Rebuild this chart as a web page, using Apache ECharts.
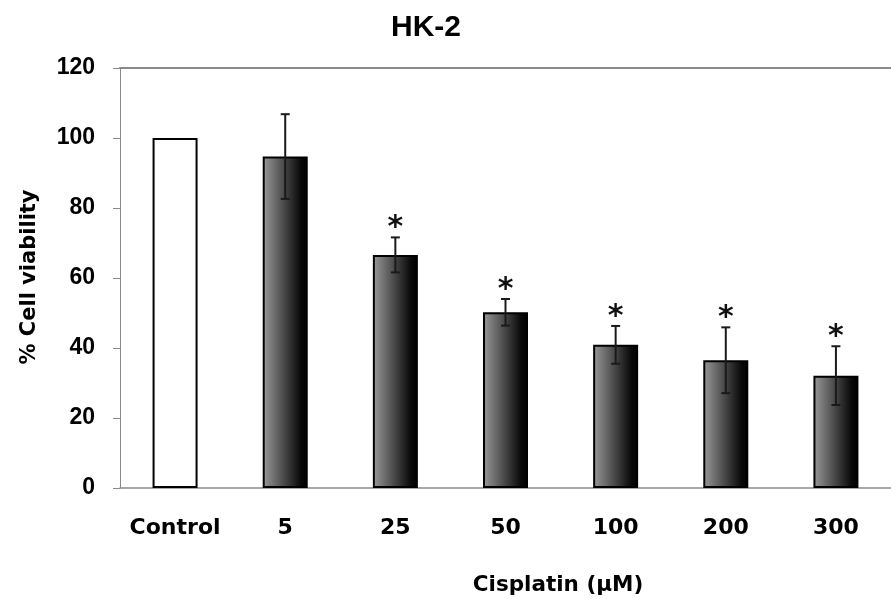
<!DOCTYPE html>
<html>
<head>
<meta charset="utf-8">
<script src="https://cdn.jsdelivr.net/npm/echarts@6/dist/echarts.min.js"></script>
<style>
  html, body { margin: 0; padding: 0; background: #ffffff; }
  #chart { width: 891px; height: 599px; }
</style>
</head>
<body>
<div id="chart"></div>
<script>
// Cell viability of HK-2 cells after cisplatin exposure (mean ± SD)
const categories = ['Control', '5', '25', '50', '100', '200', '300'];
const viability = [100, 94.7, 66.6, 50.2, 40.9, 36.5, 32.1];
const errors = [0, 12.1, 5.0, 3.8, 5.4, 9.4, 8.4];
const significant = [false, false, true, true, true, true, true];
const yTicks = [0, 20, 40, 60, 80, 100, 120];

const chartTitle = 'HK-2';
const xTitle = 'Cisplatin (μM)';
const yTitle = '% Cell viability';

const chart = echarts.init(document.getElementById('chart'), null, { renderer: 'canvas' });

const darkFill = new echarts.graphic.LinearGradient(0, 0, 1, 0, [
  { offset: 0, color: '#9a9a9a' },
  { offset: 0.85, color: '#080808' },
  { offset: 1, color: '#000000' }
]);

const barData = viability.map((v, i) => ({
  value: v,
  itemStyle: {
    color: i === 0 ? '#ffffff' : darkFill,
    borderColor: '#000000',
    borderWidth: 2
  }
}));

// [category index, low, high, significance flag]
const errData = viability
  .map((v, i) => [i, v - errors[i], v + errors[i], significant[i] ? 1 : 0])
  .filter((d, i) => errors[i] > 0);

const labelFont = '"DejaVu Sans", sans-serif';
const arialFont = '"Liberation Sans", Arial, sans-serif';

chart.setOption({
  backgroundColor: '#ffffff',
  animation: false,
  grid: { left: 120, right: -11, top: 68, bottom: 111 },
  xAxis: [
    {
      type: 'category',
      data: categories,
      position: 'bottom',
      axisLine: { show: true, lineStyle: { color: '#8a8a8a', width: 1.5 } },
      axisTick: { show: false },
      axisLabel: {
        interval: 0,
        margin: 29,
        color: '#000000',
        fontFamily: labelFont,
        fontWeight: 'bold',
        fontSize: 22
      }
    },
    {
      type: 'category',
      data: categories,
      position: 'top',
      axisLine: { show: true, lineStyle: { color: '#8a8a8a', width: 2 } },
      axisTick: { show: false },
      axisLabel: { show: false }
    }
  ],
  yAxis: {
    type: 'value',
    min: yTicks[0],
    max: yTicks[yTicks.length - 1],
    interval: yTicks[1] - yTicks[0],
    splitLine: { show: false },
    axisLine: { show: true, lineStyle: { color: '#8a8a8a', width: 1 } },
    axisTick: { show: true, inside: false, length: 7, lineStyle: { color: '#8a8a8a', width: 1 } },
    axisLabel: {
      margin: 25,
      color: '#000000',
      fontFamily: arialFont,
      fontWeight: 'bold',
      fontSize: 23
    }
  },
  series: [
    {
      type: 'bar',
      data: barData,
      barWidth: 45,
      xAxisIndex: 0
    },
    {
      type: 'custom',
      xAxisIndex: 0,
      data: errData,
      z: 5,
      renderItem: function (params, api) {
        const x = api.value(0);
        const pHi = api.coord([x, api.value(2)]);
        const pLo = api.coord([x, api.value(1)]);
        const half = 4.5;
        const style = { stroke: '#1a1a1a', lineWidth: 2 };
        const children = [
          { type: 'line', shape: { x1: pHi[0], y1: pHi[1], x2: pLo[0], y2: pLo[1] }, style: style },
          { type: 'line', shape: { x1: pHi[0] - half, y1: pHi[1], x2: pHi[0] + half, y2: pHi[1] }, style: style },
          { type: 'line', shape: { x1: pLo[0] - half, y1: pLo[1], x2: pLo[0] + half, y2: pLo[1] }, style: style }
        ];
        if (api.value(3)) {
          children.push({
            type: 'text',
            style: {
              text: '*',
              x: pHi[0],
              y: pHi[1] - 9,
              align: 'center',
              verticalAlign: 'middle',
              font: 'bold 30px "DejaVu Sans", sans-serif',
              fill: '#111111'
            }
          });
        }
        return { type: 'group', children: children };
      }
    }
  ],
  graphic: [
    {
      type: 'text',
      x: 426, y: 28,
      style: {
        text: chartTitle,
        align: 'center',
        verticalAlign: 'middle',
        font: 'bold 30px ' + arialFont,
        fill: '#000000'
      }
    },
    {
      type: 'text',
      x: 558, y: 585,
      style: {
        text: xTitle,
        align: 'center',
        verticalAlign: 'middle',
        font: 'bold 21.5px ' + labelFont,
        fill: '#000000'
      }
    },
    {
      type: 'text',
      x: 30, y: 277,
      rotation: Math.PI / 2,
      style: {
        text: yTitle,
        align: 'center',
        verticalAlign: 'middle',
        font: 'bold 21px ' + labelFont,
        fill: '#000000'
      }
    }
  ]
});
</script>
</body>
</html>
